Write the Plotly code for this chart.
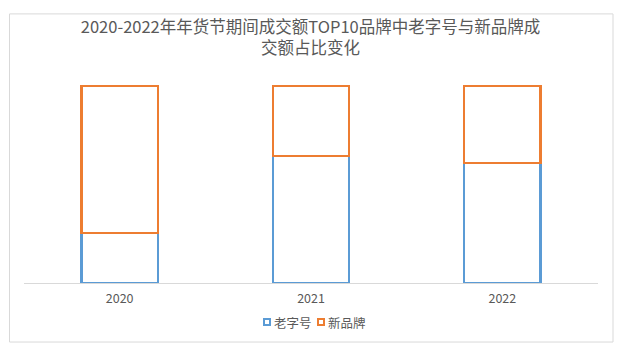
import plotly.graph_objects as go

years = ["2020", "2021", "2022"]
old_brand = [0.255, 0.645, 0.608]   # 老字号
new_brand = [0.745, 0.355, 0.392]   # 新品牌
series_names = ["老字号", "新品牌"]
series_colors = ["#5B9BD5", "#ED7D31"]
title_text = "2020-2022年年货节期间成交额TOP10品牌中老字号与新品牌成<br>交额占比变化"

W, H = 621, 360
plot_l, plot_r = 24, 598
bar_top_px, base_px = 86, 283
ymax = 1.02
plot_h = (base_px - bar_top_px) * ymax
plot_t = base_px - plot_h

font_family = '"Noto Sans CJK SC", "Noto Sans", sans-serif'
gray = "#595959"

fig = go.Figure()
for name, vals, col in zip(series_names, [old_brand, new_brand], series_colors):
    fig.add_trace(go.Bar(
        x=years, y=vals, name=name, showlegend=False,
        marker=dict(color="white", line=dict(color=col, width=2.3)),
    ))

pw = plot_r - plot_l
def px2paper_x(x):
    return (x - plot_l) / pw
def px2paper_y(y):
    return (base_px - y) / plot_h

# outer chart border
fig.add_shape(type="rect", xref="paper", yref="paper",
              x0=px2paper_x(9.5), x1=px2paper_x(613), y0=px2paper_y(342), y1=px2paper_y(14),
              line=dict(color="#d9d9d9", width=1), fillcolor="rgba(0,0,0,0)", layer="below")

# legend (compact, Excel-like)
legend_y = 322
legend_items = [(264, 272), (318, 326)]  # (square x, text x) in px
for (sx, tx), name, col in zip(legend_items, series_names, series_colors):
    fig.add_shape(type="rect", xref="paper", yref="paper",
                  x0=px2paper_x(sx), x1=px2paper_x(sx + 6),
                  y0=px2paper_y(legend_y + 3), y1=px2paper_y(legend_y - 3),
                  line=dict(color=col, width=2), fillcolor="white")
    fig.add_annotation(text=name, xref="paper", yref="paper",
                       x=px2paper_x(tx), y=px2paper_y(legend_y),
                       xanchor="left", yanchor="middle", showarrow=False,
                       font=dict(size=12.5, color=gray, family=font_family))

fig.update_layout(
    width=W, height=H,
    margin=dict(l=plot_l, r=W - plot_r, t=plot_t, b=H - base_px, autoexpand=False),
    paper_bgcolor="white", plot_bgcolor="white",
    barmode="stack", bargap=0.6,
    font=dict(family=font_family, color=gray, size=12),
    title=dict(text=title_text, x=0.5, xanchor="center", xref="container",
               y=1 - 33 / H, yanchor="middle", yref="container",
               font=dict(size=16.5, color=gray, family=font_family)),
    showlegend=False,
    xaxis=dict(showline=True, linecolor="#d9d9d9", linewidth=1, ticks="",
               showgrid=False, tickfont=dict(size=12.5, color=gray),
               ticklabelstandoff=4),
    yaxis=dict(range=[0, ymax], visible=False, showgrid=False),
)

fig.write_html("out.html")
